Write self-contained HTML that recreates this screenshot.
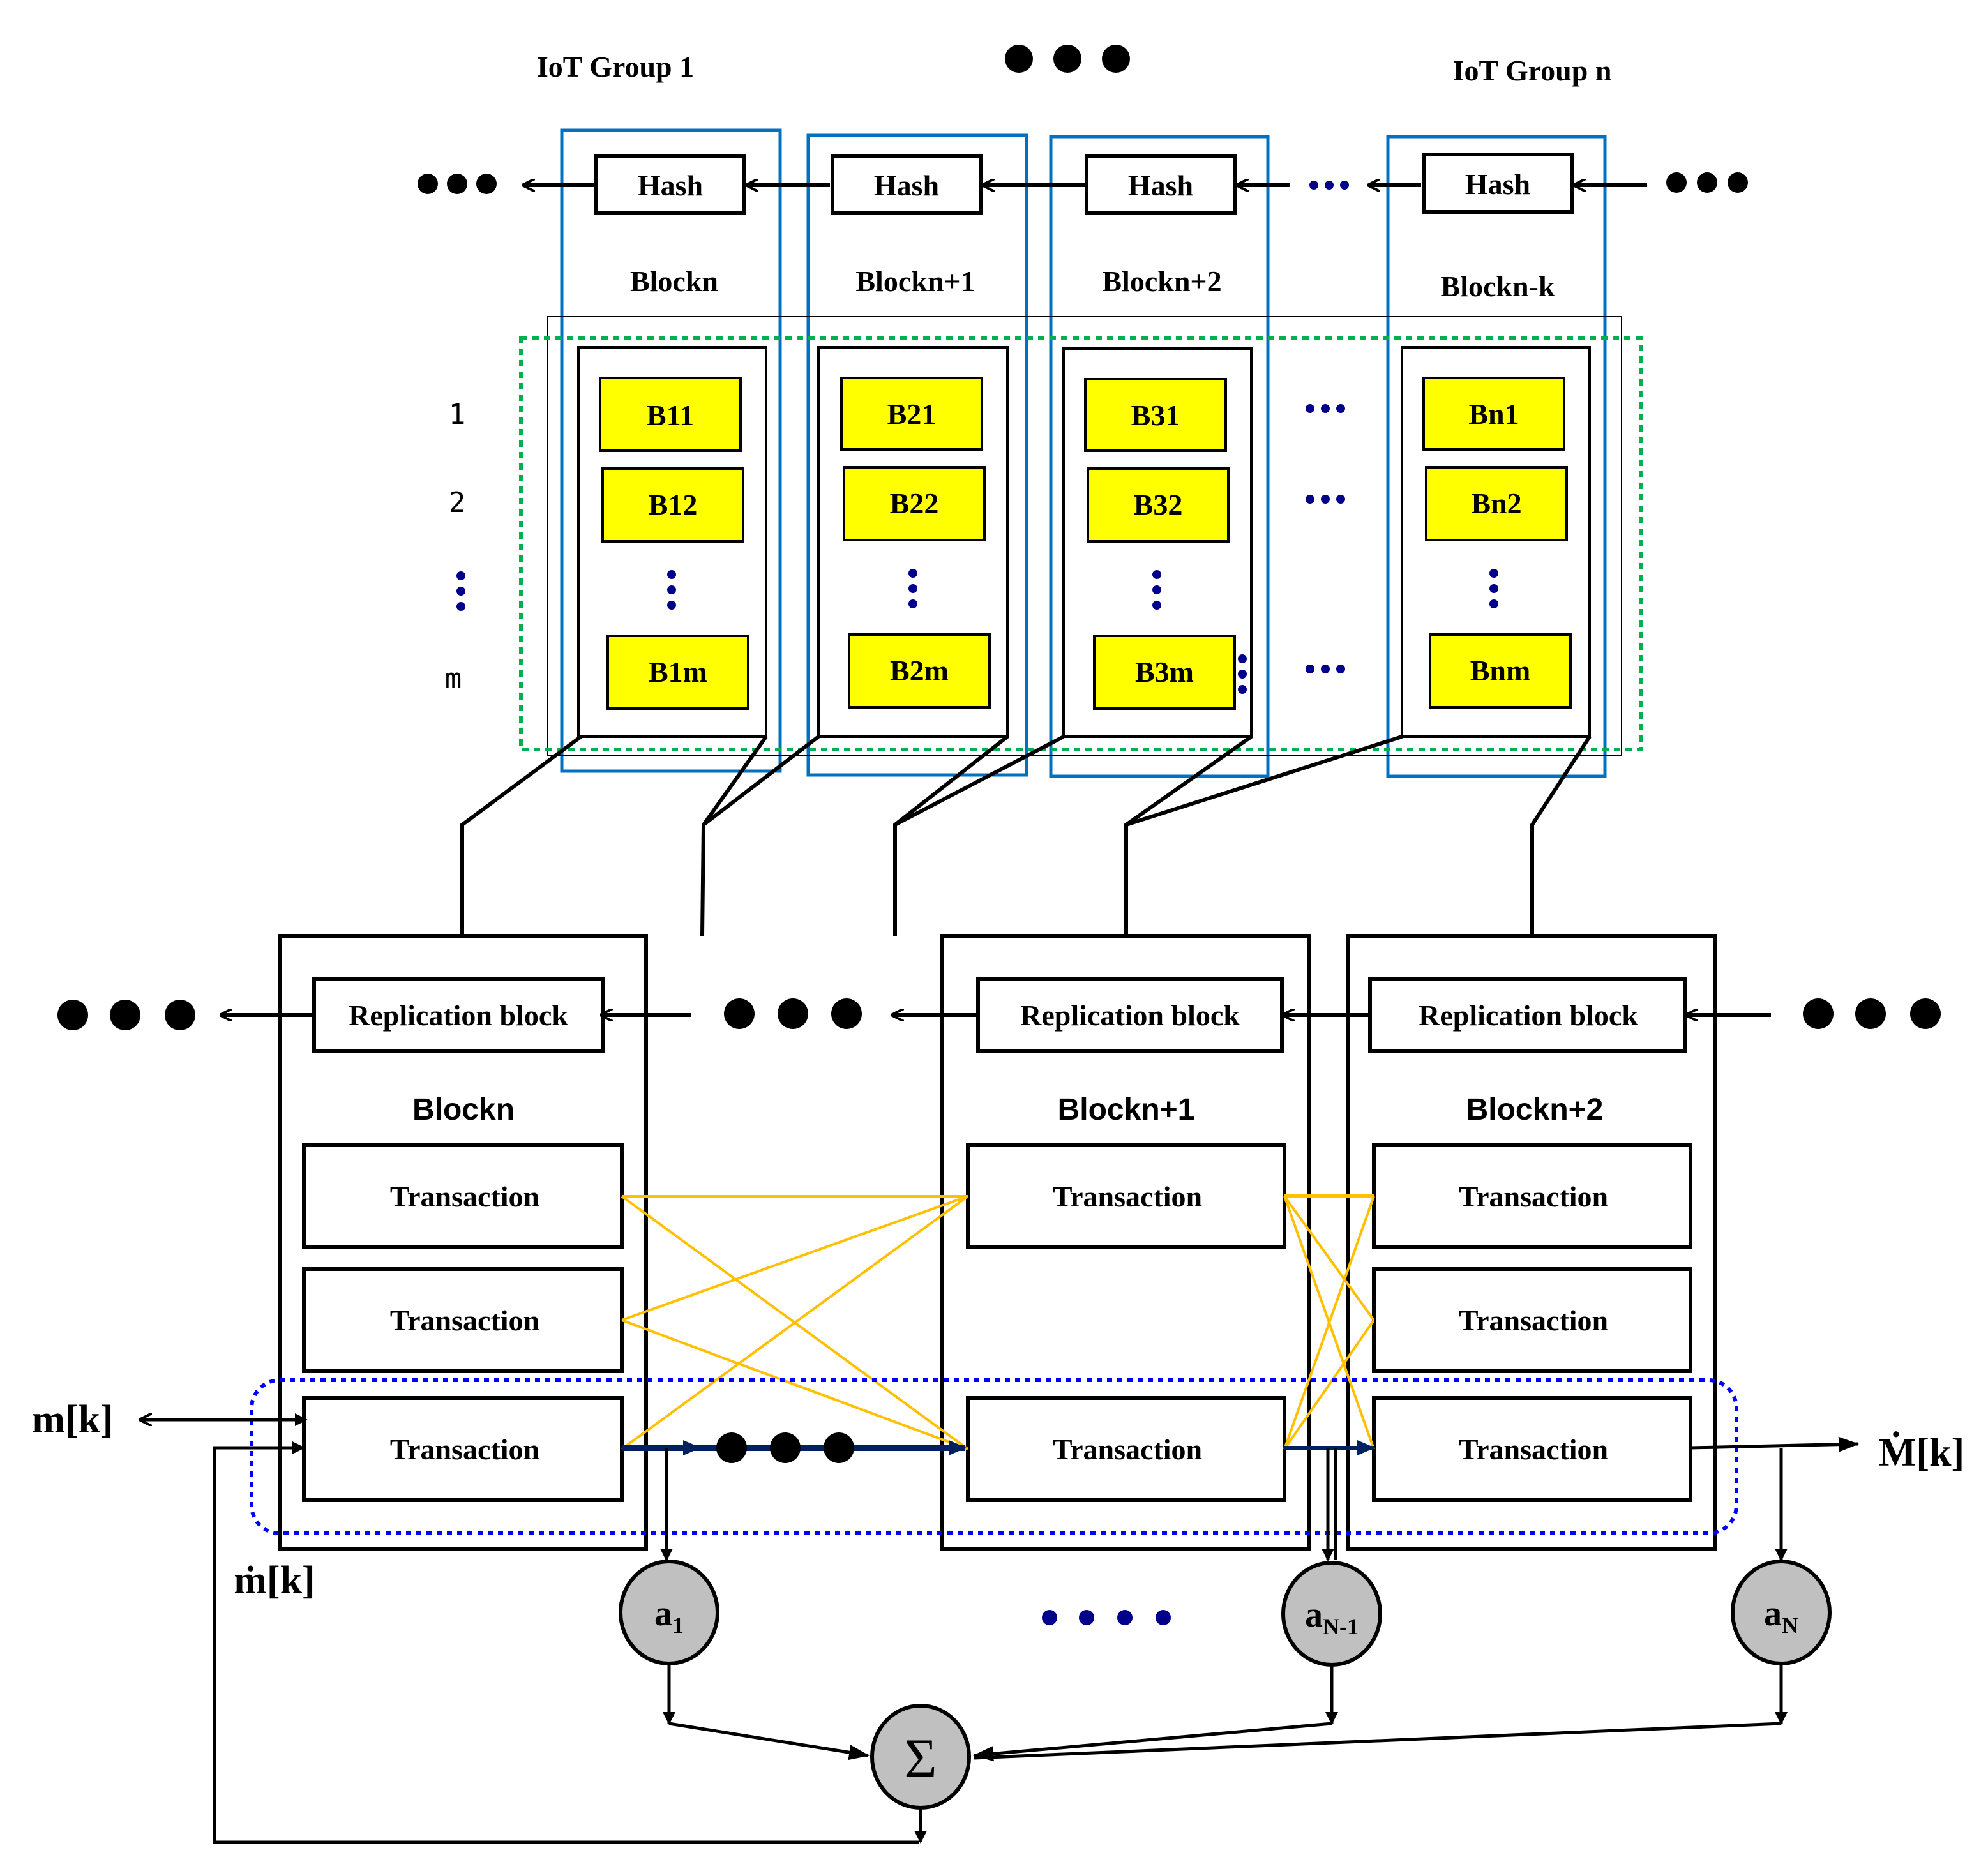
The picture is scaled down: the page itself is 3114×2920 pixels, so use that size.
<!DOCTYPE html>
<html><head><meta charset="utf-8"><style>html,body{margin:0;padding:0;background:#fff}svg{display:block}</style></head>
<body>
<svg width="3114" height="2920" viewBox="0 0 1557 1460" xmlns="http://www.w3.org/2000/svg">
<defs>
<marker id="ah" markerWidth="10" markerHeight="10" refX="9" refY="5" orient="auto-start-reverse" markerUnits="userSpaceOnUse"><path d="M0,0 L10,5 L0,10" fill="none" stroke="#000" stroke-width="2"/></marker>
<marker id="af" markerWidth="16" markerHeight="12" refX="15" refY="6" orient="auto" markerUnits="userSpaceOnUse"><path d="M0,0 L16,6 L0,12 z" fill="#000"/></marker>
<marker id="an" markerWidth="14" markerHeight="12" refX="13" refY="6" orient="auto" markerUnits="userSpaceOnUse"><path d="M0,0 L14,6 L0,12 z" fill="#002060"/></marker>
<marker id="as" markerWidth="10" markerHeight="14" refX="9" refY="7" orient="auto" markerUnits="userSpaceOnUse"><path d="M0,2 L10,7 L0,12 z" fill="#000"/></marker>
</defs>
<g font-family="Liberation Serif, serif" font-weight="bold" text-anchor="middle">
<text x="482" y="60" font-size="23">IoT Group 1</text>
<text x="1200" y="63" font-size="23">IoT Group n</text>
<circle cx="798" cy="46" r="11"/><circle cx="836" cy="46" r="11"/><circle cx="874" cy="46" r="11"/>

<g fill="none" stroke="#0070c0" stroke-width="2.5">
<rect x="440" y="102" width="171" height="502"/><rect x="633" y="106" width="171" height="501"/>
<rect x="823" y="107" width="170" height="501"/><rect x="1087" y="107" width="170" height="501"/>
</g>
<g fill="#fff" stroke="#000" stroke-width="3">
<rect x="467" y="122" width="116" height="45"/><rect x="652" y="122" width="116" height="45"/>
<rect x="851" y="122" width="116" height="45"/><rect x="1115" y="121" width="116" height="45"/>
</g>
<g font-size="23"><text x="525" y="153">Hash</text><text x="710" y="153">Hash</text><text x="909" y="153">Hash</text><text x="1173" y="152">Hash</text></g>
<g stroke="#000" stroke-width="3" marker-end="url(#ah)">
<line x1="465" y1="145" x2="410" y2="145"/><line x1="650" y1="145" x2="585" y2="145"/>
<line x1="850" y1="145" x2="770" y2="145"/>
<line x1="1010" y1="145" x2="969" y2="145"/><line x1="1113" y1="145" x2="1072" y2="145"/>
<line x1="1290" y1="145" x2="1233" y2="145"/>
</g>
<g fill="#000"><circle cx="335" cy="144" r="8"/><circle cx="358" cy="144" r="8"/><circle cx="381" cy="144" r="8"/>
<circle cx="1313" cy="143" r="8"/><circle cx="1337" cy="143" r="8"/><circle cx="1361" cy="143" r="8"/></g>
<g fill="#00008b"><circle cx="1029" cy="145" r="3.5"/><circle cx="1041" cy="145" r="3.5"/><circle cx="1053" cy="145" r="3.5"/></g>
<g font-size="23"><text x="528" y="228">Blockn</text><text x="717" y="228">Blockn+1</text><text x="910" y="228">Blockn+2</text><text x="1173" y="232">Blockn-k</text></g>

<rect x="429" y="248" width="841" height="344" fill="none" stroke="#000" stroke-width="1"/>
<rect x="408" y="265" width="877" height="322" fill="none" stroke="#00b050" stroke-width="3" stroke-dasharray="5,4"/>
<g fill="none" stroke="#000" stroke-width="2">
<rect x="453" y="272" width="147" height="305"/><rect x="641" y="272" width="148" height="305"/>
<rect x="833" y="273" width="147" height="304"/><rect x="1098" y="272" width="147" height="305"/>
</g>
<g fill="#ffff00" stroke="#000" stroke-width="2">
<rect x="470" y="296" width="110" height="57"/><rect x="472" y="367" width="110" height="57"/><rect x="476" y="498" width="110" height="57"/>
<rect x="659" y="296" width="110" height="56"/><rect x="661" y="366" width="110" height="57"/><rect x="665" y="497" width="110" height="57"/>
<rect x="850" y="297" width="110" height="56"/><rect x="852" y="367" width="110" height="57"/><rect x="857" y="498" width="110" height="57"/>
<rect x="1115" y="296" width="110" height="56"/><rect x="1117" y="366" width="110" height="57"/><rect x="1120" y="497" width="110" height="57"/>
</g>
<g font-size="23">
<text x="525" y="333">B11</text><text x="527" y="403">B12</text><text x="531" y="534">B1m</text>
<text x="714" y="332">B21</text><text x="716" y="402">B22</text><text x="720" y="533">B2m</text>
<text x="905" y="333">B31</text><text x="907" y="403">B32</text><text x="912" y="534">B3m</text>
<text x="1170" y="332">Bn1</text><text x="1172" y="402">Bn2</text><text x="1175" y="533">Bnm</text>
</g>
<g fill="#00008b">
<circle cx="526" cy="450" r="3.5"/><circle cx="526" cy="462" r="3.5"/><circle cx="526" cy="474" r="3.5"/>
<circle cx="715" cy="449" r="3.5"/><circle cx="715" cy="461" r="3.5"/><circle cx="715" cy="473" r="3.5"/>
<circle cx="906" cy="450" r="3.5"/><circle cx="906" cy="462" r="3.5"/><circle cx="906" cy="474" r="3.5"/>
<circle cx="1170" cy="449" r="3.5"/><circle cx="1170" cy="461" r="3.5"/><circle cx="1170" cy="473" r="3.5"/>
<circle cx="973" cy="516" r="3.5"/><circle cx="973" cy="528" r="3.5"/><circle cx="973" cy="540" r="3.5"/>
<circle cx="361" cy="451" r="3.5"/><circle cx="361" cy="463" r="3.5"/><circle cx="361" cy="475" r="3.5"/>
<circle cx="1026" cy="320" r="3.5"/><circle cx="1038" cy="320" r="3.5"/><circle cx="1050" cy="320" r="3.5"/>
<circle cx="1026" cy="391" r="3.5"/><circle cx="1038" cy="391" r="3.5"/><circle cx="1050" cy="391" r="3.5"/>
<circle cx="1026" cy="524" r="3.5"/><circle cx="1038" cy="524" r="3.5"/><circle cx="1050" cy="524" r="3.5"/>
</g>
<g font-family="DejaVu Sans Mono, monospace" font-weight="normal" font-size="22"><text x="358" y="332">1</text><text x="358" y="401">2</text><text x="355" y="539">m</text></g>

<g fill="none" stroke="#000" stroke-width="3">
<polyline points="455,577 362,646 362,733"/>
<polyline points="600,577 551,646 550,733"/><line x1="641" y1="577" x2="551" y2="646"/>
<polyline points="789,577 701,646 701,733"/><line x1="833" y1="577" x2="701" y2="646"/>
<polyline points="980,577 882,646 882,733"/><line x1="1098" y1="577" x2="882" y2="646"/>
<polyline points="1245,577 1200,646 1200,733"/>
</g>

<g fill="none" stroke="#000" stroke-width="3">
<rect x="219" y="733" width="287" height="480"/><rect x="738" y="733" width="287" height="480"/><rect x="1056" y="733" width="287" height="480"/>
<rect x="246" y="767" width="226" height="56"/><rect x="766" y="767" width="238" height="56"/><rect x="1073" y="767" width="247" height="56"/>
<rect x="238" y="897" width="249" height="80"/><rect x="238" y="994" width="249" height="80"/><rect x="238" y="1095" width="249" height="80"/>
<rect x="758" y="897" width="248" height="80"/><rect x="758" y="1095" width="248" height="80"/>
<rect x="1076" y="897" width="248" height="80"/><rect x="1076" y="994" width="248" height="80"/><rect x="1076" y="1095" width="248" height="80"/>
</g>
<g font-size="23"><text x="359" y="803">Replication block</text><text x="885" y="803">Replication block</text><text x="1197" y="803">Replication block</text>
<text x="364" y="945">Transaction</text><text x="364" y="1042">Transaction</text><text x="364" y="1143">Transaction</text>
<text x="883" y="945">Transaction</text><text x="883" y="1143">Transaction</text>
<text x="1201" y="945">Transaction</text><text x="1201" y="1042">Transaction</text><text x="1201" y="1143">Transaction</text></g>
<g font-family="Liberation Sans, sans-serif" font-size="24"><text x="363" y="877">Blockn</text><text x="882" y="877">Blockn+1</text><text x="1202" y="877">Blockn+2</text></g>
<g stroke="#000" stroke-width="3" marker-end="url(#ah)">
<line x1="246" y1="795" x2="173" y2="795"/><line x1="541" y1="795" x2="471" y2="795"/>
<line x1="765" y1="795" x2="699" y2="795"/><line x1="1073" y1="795" x2="1005" y2="795"/><line x1="1387" y1="795" x2="1321" y2="795"/>
</g>
<g fill="#000"><circle cx="57" cy="795" r="12"/><circle cx="98" cy="795" r="12"/><circle cx="141" cy="795" r="12"/>
<circle cx="579" cy="794" r="12"/><circle cx="621" cy="794" r="12"/><circle cx="663" cy="794" r="12"/>
<circle cx="1424" cy="794" r="12"/><circle cx="1465" cy="794" r="12"/><circle cx="1508" cy="794" r="12"/></g>

<g stroke="#ffc000" stroke-width="2" fill="none">
<line x1="487" y1="937" x2="758" y2="937"/><line x1="487" y1="937" x2="758" y2="1135"/>
<line x1="487" y1="1034" x2="758" y2="937"/><line x1="487" y1="1034" x2="758" y2="1135"/>
<line x1="487" y1="1135" x2="758" y2="937"/>
<line x1="1006" y1="937" x2="1076" y2="937" stroke-width="3"/><line x1="1006" y1="937" x2="1076" y2="1034"/><line x1="1006" y1="937" x2="1076" y2="1135"/>
<line x1="1006" y1="1135" x2="1076" y2="937"/><line x1="1006" y1="1135" x2="1076" y2="1034"/>
</g>
<line x1="487" y1="1134" x2="756" y2="1134" stroke="#002060" stroke-width="5" marker-end="url(#an)"/>
<line x1="487" y1="1134" x2="548" y2="1134" stroke="#002060" stroke-width="5" marker-end="url(#an)"/>
<line x1="1006" y1="1134" x2="1076" y2="1134" stroke="#002060" stroke-width="3" marker-end="url(#an)"/>
<g fill="#000"><circle cx="573" cy="1134" r="12"/><circle cx="615" cy="1134" r="12"/><circle cx="657" cy="1134" r="12"/></g>
<rect x="197" y="1081" width="1163" height="120" rx="22" fill="none" stroke="#0000ff" stroke-width="3" stroke-dasharray="4,4"/>

<text x="57" y="1122" font-size="31">m[k]</text>
<text x="215" y="1248" font-size="31">ṁ[k]</text>
<text x="1505" y="1148" font-size="31">Ṁ[k]</text>
<g stroke="#000" stroke-width="2.5" fill="none">
<line x1="110" y1="1112" x2="240" y2="1112" marker-end="url(#as)" marker-start="url(#ah)"/>
<polyline points="720,1443 168,1443 168,1134 238,1134" marker-end="url(#as)"/>
<line x1="1324" y1="1134" x2="1455" y2="1131" marker-end="url(#af)"/>
<line x1="522" y1="1134" x2="522" y2="1222" marker-end="url(#as)"/>
<line x1="1040" y1="1134" x2="1040" y2="1222" marker-end="url(#as)"/>
<line x1="1046" y1="1134" x2="1046" y2="1222"/>
<line x1="1395" y1="1134" x2="1395" y2="1222" marker-end="url(#as)"/>
<line x1="524" y1="1303" x2="524" y2="1350" marker-end="url(#as)"/>
<line x1="1043" y1="1304" x2="1043" y2="1350" marker-end="url(#as)"/>
<line x1="1395" y1="1303" x2="1395" y2="1350" marker-end="url(#as)"/>
<line x1="524" y1="1350" x2="680" y2="1375" marker-end="url(#af)"/>
<line x1="1043" y1="1350" x2="763" y2="1375" marker-end="url(#af)"/>
<line x1="1395" y1="1350" x2="763" y2="1377"/>
<line x1="721" y1="1416" x2="721" y2="1443" marker-end="url(#as)"/>
</g>
<g fill="#c0c0c0" stroke="#000" stroke-width="3">
<ellipse cx="524" cy="1263" rx="38" ry="40"/><ellipse cx="1043" cy="1264" rx="38" ry="40"/>
<ellipse cx="1395" cy="1263" rx="38" ry="40"/><ellipse cx="721" cy="1376" rx="38" ry="40"/>
</g>
<text x="524" y="1273" font-size="28">a<tspan font-size="18" dy="6">1</tspan></text>
<text x="1043" y="1274" font-size="28">a<tspan font-size="18" dy="6">N-1</tspan></text>
<text x="1395" y="1273" font-size="28">a<tspan font-size="18" dy="6">N</tspan></text>
<text x="721" y="1392" font-size="44" font-weight="normal">Σ</text>
<g fill="#00008b"><circle cx="822" cy="1267" r="6"/><circle cx="851" cy="1267" r="6"/><circle cx="881" cy="1267" r="6"/><circle cx="911" cy="1267" r="6"/></g>
</g>
</svg>
</body></html>
